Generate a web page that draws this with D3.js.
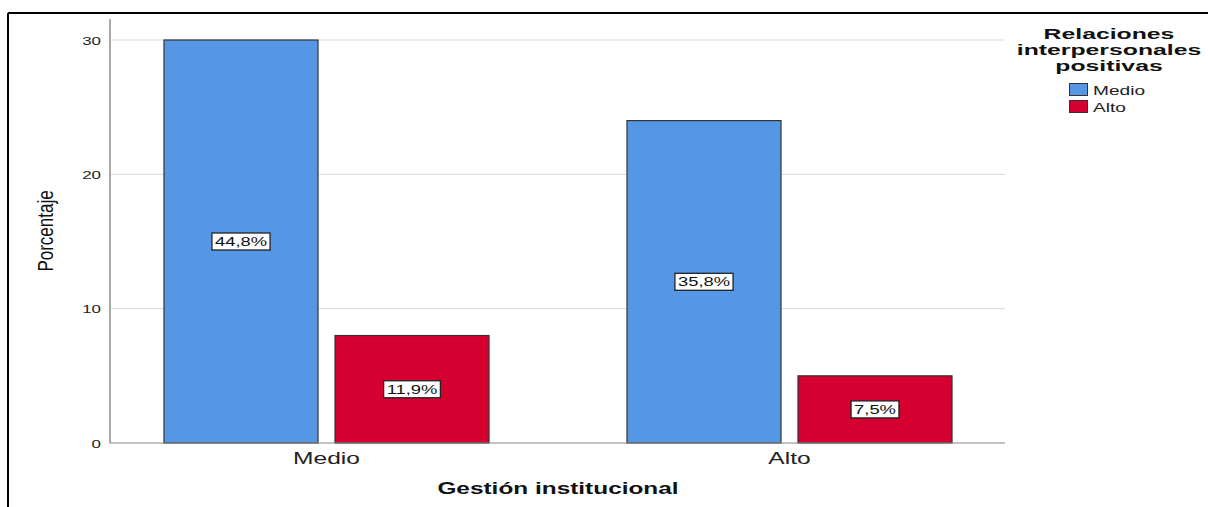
<!DOCTYPE html>
<html><head><meta charset="utf-8">
<script src="https://cdn.jsdelivr.net/npm/d3@7"></script>
<style>body{margin:0;background:#fff}svg{display:block}</style>
</head><body>
<script>
const categories = ["Medio", "Alto"];
const seriesNames = ["Medio", "Alto"];
const medioValues = [30, 8];   // bars in category Medio
const altoValues = [24, 5];    // bars in category Alto
const barLabels = [["44,8%", "11,9%"], ["35,8%", "7,5%"]];
const yTicks = [0, 10, 20, 30];
const colors = ["#5596e5", "#d5002f"];

const W = 1208, H = 507;
const SX = 1.47; // horizontal stretch of the original picture
const FONT = "Liberation Sans, Arial, sans-serif";
const svg = d3.select("body").append("svg").attr("width", W).attr("height", H);

function stext(parent, x, y, str, size, anchor, weight, fill, sx) {
  return parent.append("text")
    .attr("transform", `translate(${x},${y}) scale(${sx || SX},1)`)
    .attr("text-anchor", anchor || "start")
    .attr("font-family", FONT).attr("font-size", size)
    .attr("font-weight", weight || "normal").attr("fill", fill || "#222")
    .text(str);
}

// frame
svg.append("line").attr("x1", 8).attr("x2", W).attr("y1", 13).attr("y2", 13).attr("stroke", "#000").attr("stroke-width", 2);
svg.append("line").attr("x1", 8).attr("x2", 8).attr("y1", 13).attr("y2", H).attr("stroke", "#000").attr("stroke-width", 2);

const x0 = d3.scaleBand().domain(categories).range([110, 1006]).paddingInner(0.298).paddingOuter(0.1166);
const x1 = d3.scaleBand().domain(seriesNames).range([0, x0.bandwidth()]).paddingInner(0.0994);
const y = d3.scaleLinear().domain([0, 30]).range([443, 40]);

// gridlines
svg.append("g").selectAll("line").data(yTicks.filter(d => d > 0)).join("line")
  .attr("x1", 110).attr("x2", 1005).attr("y1", d => y(d)).attr("y2", d => y(d))
  .attr("stroke", "#d9d9d9").attr("stroke-width", 1);

// y axis ticks
yTicks.forEach(t => stext(svg, 101, y(t) + 4.5, String(t), 11.5, "end", "normal", "#222"));
svg.append("line").attr("x1", 110).attr("x2", 110).attr("y1", 19).attr("y2", 443).attr("stroke", "#aaa").attr("stroke-width", 2);

// bars
const data = [medioValues, altoValues];
categories.forEach((c, ci) => {
  const g = svg.append("g").attr("transform", `translate(${x0(c)},0)`);
  seriesNames.forEach((s, si) => {
    const v = data[ci][si];
    g.append("rect").attr("x", x1(s)).attr("y", y(v)).attr("width", x1.bandwidth()).attr("height", y(0) - y(v))
      .attr("fill", colors[si]).attr("stroke", "#333").attr("stroke-width", 1.2);
    const cx = x1(s) + x1.bandwidth() / 2, cy = (y(v) + y(0)) / 2;
    const box = g.append("rect");
    const t = stext(g, cx, cy + 4.5, barLabels[ci][si], 12.5, "middle", "normal", "#111");
    const w = t.node().getBBox().width * SX;
    box.attr("x", cx - w / 2 - 3).attr("y", cy - 8.5).attr("width", w + 6).attr("height", 17)
      .attr("fill", "#fff").attr("stroke", "#222").attr("stroke-width", 1.3);
  });
});

// x axis baseline and labels
svg.append("line").attr("x1", 110).attr("x2", 1005).attr("y1", 443).attr("y2", 443).attr("stroke", "#888").attr("stroke-width", 1);
categories.forEach(c => stext(svg, x0(c) + x0.bandwidth() / 2, 464, c, 16.7, "middle", "normal", "#222"));

// axis titles
stext(svg, 558, 494, "Gestión institucional", 16.6, "middle", "bold", "#111");
svg.append("text").attr("transform", "translate(53,231) scale(1.25,1) rotate(-90)").attr("text-anchor", "middle")
  .attr("font-family", FONT).attr("font-size", 17).attr("fill", "#111")
  .text("Porcentaje");

// legend
const legTitle = ["Relaciones", "interpersonales", "positivas"];
legTitle.forEach((d, i) => stext(svg, 1109, 39 + i * 16, d, 15.2, "middle", "bold", "#111", 1.63));
seriesNames.forEach((d, i) => {
  svg.append("rect").attr("x", 1069.5).attr("y", 83.5 + i * 17).attr("width", 18).attr("height", 12)
    .attr("fill", colors[i]).attr("stroke", "#333").attr("stroke-width", 1);
  stext(svg, 1093, 95 + i * 16.5, d, 13, "start", "normal", "#222");
});
</script>
</body></html>
